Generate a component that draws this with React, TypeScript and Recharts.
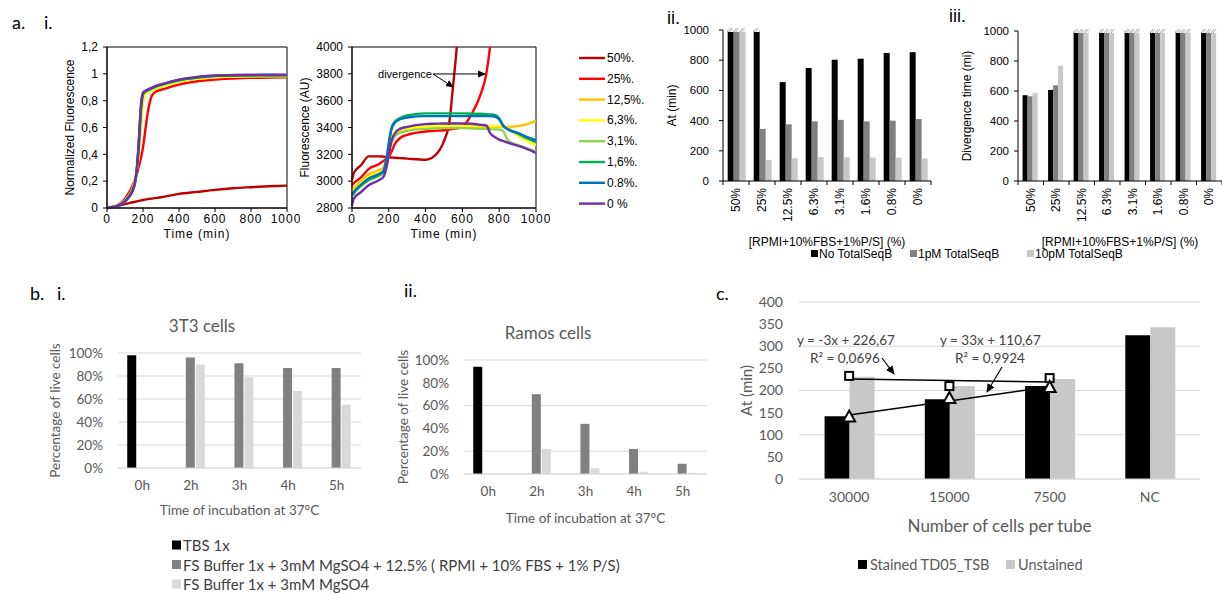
import React from 'react';
import {
  LineChart, Line, XAxis, YAxis, BarChart, Bar, ComposedChart, CartesianGrid,
  ReferenceArea, ReferenceLine, ReferenceDot,
} from 'recharts';

// ---------------- Panel a.i : normalized fluorescence ----------------
const normTime = [0, 50, 100, 150, 165, 175, 190, 200, 210, 225, 250, 275, 300, 400, 500, 600, 700, 800, 900, 1000];
const norm50 = [0, 0.015, 0.03, 0.045, 0.049, 0.052, 0.057, 0.06, 0.062, 0.066, 0.07, 0.075, 0.08, 0.105, 0.12, 0.135, 0.147, 0.155, 0.162, 0.167];
const norm25 = [0, 0.015, 0.07, 0.19, 0.25, 0.3, 0.38, 0.45, 0.55, 0.7, 0.84, 0.87, 0.88, 0.92, 0.945, 0.958, 0.965, 0.97, 0.972, 0.975];
const norm125 = [0, 0.013, 0.058, 0.18, 0.28, 0.4, 0.66, 0.8, 0.845, 0.865, 0.88, 0.895, 0.905, 0.942, 0.962, 0.974, 0.978, 0.98, 0.98, 0.98];
const norm63 = [0, 0.012, 0.055, 0.17, 0.27, 0.38, 0.62, 0.78, 0.84, 0.86, 0.878, 0.892, 0.903, 0.94, 0.962, 0.975, 0.98, 0.983, 0.985, 0.985];
const norm31 = [0, 0.012, 0.055, 0.17, 0.28, 0.42, 0.72, 0.84, 0.86, 0.872, 0.89, 0.905, 0.915, 0.95, 0.97, 0.982, 0.986, 0.988, 0.99, 0.99];
const norm16 = [0, 0.011, 0.05, 0.16, 0.28, 0.44, 0.76, 0.85, 0.868, 0.878, 0.893, 0.908, 0.918, 0.953, 0.973, 0.985, 0.988, 0.99, 0.99, 0.99];
const norm08 = [0, 0.01, 0.05, 0.16, 0.28, 0.45, 0.77, 0.852, 0.868, 0.879, 0.894, 0.909, 0.919, 0.954, 0.974, 0.986, 0.989, 0.99, 0.991, 0.99];
const norm0 = [0, 0.01, 0.048, 0.155, 0.28, 0.46, 0.79, 0.858, 0.872, 0.882, 0.897, 0.912, 0.922, 0.957, 0.977, 0.988, 0.991, 0.993, 0.994, 0.994];

// ---------------- Panel a.i : raw fluorescence ----------------
const rawTime = [0, 10, 50, 90, 150, 170, 190, 200, 215, 230, 260, 300, 400, 450, 500, 530, 550, 570, 600, 650, 700, 730, 750, 780, 800, 820, 850, 900, 950, 1000];
const raw50 = [3010, 3060, 3120, 3185, 3185, 3183, 3180, 3178, 3176, 3175, 3172, 3168, 3160, 3190, 3300, 3450, 3720, 4010, 4700, null, null, null, null, null, null, null, null, null, null, null];
const raw25 = [2970, 2985, 3030, 3090, 3130, 3150, 3170, 3185, 3220, 3270, 3320, 3345, 3370, 3375, 3380, 3385, 3390, 3393, 3405, 3500, 3650, 3800, 4000, 4500, null, null, null, null, null, null];
const raw125 = [2935, 2950, 3000, 3050, 3085, 3100, 3180, 3240, 3310, 3350, 3380, 3392, 3402, 3405, 3405, 3405, 3405, 3405, 3405, 3405, 3405, 3405, 3405, 3405, 3405, 3405, 3405, 3410, 3425, 3450];
const raw63 = [2920, 2935, 2985, 3030, 3065, 3080, 3170, 3240, 3320, 3360, 3385, 3395, 3405, 3408, 3410, 3410, 3410, 3410, 3410, 3410, 3410, 3410, 3410, 3410, 3410, 3410, 3395, 3340, 3300, 3270];
const raw31 = [2900, 2920, 2965, 3005, 3040, 3060, 3130, 3200, 3290, 3330, 3360, 3375, 3390, 3392, 3395, 3395, 3395, 3395, 3395, 3393, 3390, 3390, 3388, 3386, 3385, 3375, 3300, 3270, 3245, 3220];
const raw16 = [2890, 2910, 2970, 3010, 3050, 3070, 3180, 3280, 3400, 3440, 3470, 3490, 3505, 3505, 3505, 3505, 3505, 3505, 3505, 3503, 3502, 3500, 3498, 3492, 3470, 3420, 3385, 3355, 3320, 3290];
const raw08 = [2900, 2920, 2975, 3020, 3055, 3075, 3190, 3280, 3390, 3430, 3460, 3475, 3485, 3485, 3485, 3485, 3485, 3485, 3485, 3485, 3485, 3485, 3485, 3480, 3460, 3415, 3385, 3360, 3330, 3305];
const raw0 = [2820, 2870, 2920, 2970, 3010, 3030, 3120, 3200, 3300, 3350, 3390, 3405, 3425, 3428, 3430, 3430, 3430, 3430, 3430, 3428, 3420, 3415, 3360, 3325, 3310, 3300, 3285, 3265, 3240, 3210];

const dilutionLabels = ['50%.', '25%.', '12,5%.', '6,3%.', '3,1%.', '1,6%.', '0.8%.', '0 %'];
const dilutionColors = ['#C00000', '#FF0000', '#FFC000', '#FFFF00', '#92D050', '#00B050', '#0070C0', '#7030A0'];
const normSeries = [norm50, norm25, norm125, norm63, norm31, norm16, norm08, norm0];
const rawSeries = [raw50, raw25, raw125, raw63, raw31, raw16, raw08, raw0];

const timeTicks = [0, 200, 400, 600, 800, 1000];
const normTicks = [0, 0.2, 0.4, 0.6, 0.8, 1, 1.2];
const rawTicks = [2800, 3000, 3200, 3400, 3600, 3800, 4000];

// ---------------- Panels a.ii / a.iii ----------------
const mediumCats = ['50%', '25%', '12.5%', '6.3%', '3.1%', '1.6%', '0.8%', '0%'];
const atNo = [1000, 1000, 655, 748, 803, 810, 848, 853];
const at1pM = [1000, 345, 375, 395, 405, 395, 400, 410];
const at10pM = [1000, 140, 150, 158, 158, 155, 155, 150];
const divNo = [572, 607, 1000, 1000, 1000, 1000, 1000, 1000];
const div1pM = [565, 638, 1000, 1000, 1000, 1000, 1000, 1000];
const div10pM = [588, 768, 1000, 1000, 1000, 1000, 1000, 1000];
const seqLabels = ['No TotalSeqB', '1pM TotalSeqB', '10pM TotalSeqB'];
const thousandTicks = [0, 200, 400, 600, 800, 1000];

// ---------------- Panel b ----------------
const hours = ['0h', '2h', '3h', '4h', '5h'];
const t3Tbs = [98, null, null, null, null];
const t3Fs125 = [null, 96, 91, 87, 87];
const t3Fs = [null, 90, 79, 67, 55];
const ramTbs = [94, null, null, null, null];
const ramFs125 = [null, 70, 44, 22, 9];
const ramFs = [null, 22, 5, 2, 1];
const bufferLabels = ['TBS 1x', 'FS Buffer 1x + 3mM MgSO4 + 12.5% ( RPMI + 10% FBS + 1% P/S)', 'FS Buffer 1x + 3mM MgSO4'];
const pctTicks = [0, 20, 40, 60, 80, 100];

// ---------------- Panel c ----------------
const cellCats = ['30000', '15000', '7500', 'NC'];
const stained = [142, 180, 210, 325];
const unstained = [231, 210, 226, 343];
const squarePts = [233, 210, 228, null];
const squareTrend = [226, 222.5, 219, null];
const trianglePts = [141, 183, 208, null];
const triangleTrend = [144.5, 176.5, 208.5, null];
const cTicks = [0, 50, 100, 150, 200, 250, 300, 350, 400];
const cLegend = ['Stained TD05_TSB', 'Unstained'];

// ---------------- tables ----------------
const normData = normTime.map((t, i) => {
  const row: any = { t };
  normSeries.forEach((s, k) => { row['s' + k] = s[i]; });
  return row;
});
const rawData = rawTime.map((t, i) => {
  const row: any = { t };
  rawSeries.forEach((s, k) => { row['s' + k] = s[i]; });
  return row;
});
const atData = mediumCats.map((c, i) => ({ c, no: atNo[i], p1: at1pM[i], p10: at10pM[i] }));
const divData = mediumCats.map((c, i) => ({ c, no: divNo[i], p1: div1pM[i], p10: div10pM[i] }));
const t3Data = hours.map((h, i) => ({ h, a: t3Tbs[i], b: t3Fs125[i], c: t3Fs[i] }));
const ramData = hours.map((h, i) => ({ h, a: ramTbs[i], b: ramFs125[i], c: ramFs[i] }));
const cData = cellCats.map((n, i) => ({
  n, st: stained[i], un: unstained[i], sq: squarePts[i], sqT: squareTrend[i], tr: trianglePts[i], trT: triangleTrend[i],
}));

const ARIAL = '"Liberation Sans", Arial, Helvetica, sans-serif';
const CAL = 'Lato, "Open Sans", sans-serif';
const BLACK_BAR = '#000000';
const DARK_BAR = '#808080';
const LIGHT_BAR = '#c8c8c8';
const LIGHT_B = '#d9d9d9';
const GRID = '#d9d9d9';
const GRAY_TXT = '#595959';

const commaFmt = (v: number) => (v === 0 ? '0' : v === 1 ? '1' : v.toFixed(1).replace('.', ','));

const makeHatchBar = (key: string) => (p: any) => {
  const { x, y, width, height, fill } = p;
  const v = p.payload ? p.payload[key] : 0;
  const marks: any[] = [];
  if (v >= 1000) {
    for (let i = 0; i + 3 <= width + 0.5; i += 2) {
      marks.push(<line key={i} x1={x + i} y1={y + 2} x2={x + i + 3} y2={y - 2} stroke="#9a9a9a" strokeWidth={0.8} />);
    }
  }
  return (
    <g>
      <rect x={x} y={y} width={width} height={height} fill={fill} />
      {v >= 1000 && (
        <g>
          <rect x={x} y={y - 2} width={width} height={4} fill="#ffffff" />
          {marks}
        </g>
      )}
    </g>
  );
};

const BandTick = (p: any) => {
  const { x, y, payload, index, visibleTicksCount } = p;
  const half = payload && payload.offset ? payload.offset : 13;
  const last = index === visibleTicksCount - 1;
  return (
    <g>
      <line x1={x - half} y1={y} x2={x - half} y2={y + 4} stroke="#000" />
      {last && <line x1={x + half} y1={y} x2={x + half} y2={y + 4} stroke="#000" />}
      <text x={x} y={y + 7} transform={`rotate(-90 ${x} ${y + 7})`} textAnchor="end" dominantBaseline="central" fontSize={12} fill="#000">
        {payload.value}
      </text>
    </g>
  );
};

const SquareDot = (p: any) => {
  const { cx, cy } = p;
  if (cx == null || cy == null || p.value == null) return <g />;
  return <rect x={cx - 4} y={cy - 4} width={8} height={8} fill="#fff" stroke="#000" strokeWidth={2} />;
};
const TriangleDot = (p: any) => {
  const { cx, cy } = p;
  if (cx == null || cy == null || p.value == null) return <g />;
  return <polygon points={`${cx},${cy - 6} ${cx - 6},${cy + 5} ${cx + 6},${cy + 5}`} fill="#fff" stroke="#000" strokeWidth={2} />;
};

const ArrowShape = (p: any) => (
  <line x1={p.x1} y1={p.y1} x2={p.x2} y2={p.y2} stroke="#000" strokeWidth={1} markerEnd="url(#arrowHeadA)" />
);

const abs = (left: number, top: number, font: string): React.CSSProperties => ({ position: 'absolute', left, top, fontFamily: font });

export default function App() {
  const hatchNo = makeHatchBar('no');
  const hatch1 = makeHatchBar('p1');
  const hatch10 = makeHatchBar('p10');
  return (
    <div style={{ position: 'absolute', left: 0, top: 0, width: 1222, height: 594, overflow: 'hidden', background: '#fff' }}>
      {/* a.i normalized */}
      <div style={abs(40, 30, ARIAL)}>
        <LineChart width={260} height={220} data={normData} margin={{ top: 17, right: 13, bottom: 0, left: 0 }}>
          <ReferenceArea x1={0} x2={1000} y1={0} y2={1.2} fill="none" stroke="#000" strokeWidth={1} ifOverflow="visible" />
          <XAxis dataKey="t" type="number" domain={[0, 1000]} ticks={timeTicks} height={42} tickSize={4} tickMargin={2}
            stroke="#000" tick={{ fontSize: 12, fill: '#000', letterSpacing: 1 }}
            label={{ value: 'Time (min)', position: 'insideBottom', offset: 12, fontSize: 12, fill: '#000', letterSpacing: 1 }} />
          <YAxis type="number" domain={[0, 1.2]} ticks={normTicks} width={67} tickSize={4} tickMargin={5} stroke="#000"
            tickFormatter={commaFmt} tick={{ fontSize: 12, fill: '#000' }}
            label={{ value: 'Normalized Fluorescence', angle: -90, position: 'insideLeft', offset: 30, fontSize: 12, fill: '#000', style: { textAnchor: 'middle' } }} />
          {normSeries.map((_, k) => (
            <Line key={k} dataKey={'s' + k} stroke={dilutionColors[k]} strokeWidth={2.4} dot={false} type="monotone" isAnimationActive={false} />
          ))}
        </LineChart>
      </div>

      {/* a.i raw */}
      <div style={abs(290, 30, ARIAL)}>
        <LineChart width={260} height={220} data={rawData} margin={{ top: 17, right: 14, bottom: 0, left: 0 }}>
          <ReferenceArea x1={0} x2={1000} y1={2800} y2={4000} fill="none" stroke="#000" strokeWidth={1} ifOverflow="visible" />
          <XAxis dataKey="t" type="number" domain={[0, 1000]} ticks={timeTicks} height={42} tickSize={4} tickMargin={2}
            stroke="#000" tick={{ fontSize: 12, fill: '#000', letterSpacing: 1 }}
            label={{ value: 'Time (min)', position: 'insideBottom', offset: 12, fontSize: 12, fill: '#000', letterSpacing: 1 }} />
          <YAxis type="number" domain={[2800, 4000]} allowDataOverflow ticks={rawTicks} width={62} tickSize={4} tickMargin={5} stroke="#000"
            tick={{ fontSize: 12, fill: '#000' }}
            label={{ value: 'Fluorescence (AU)', angle: -90, position: 'insideLeft', offset: 15, fontSize: 12, fill: '#000', style: { textAnchor: 'middle' } }} />
          {rawSeries.map((_, k) => (
            <Line key={k} dataKey={'s' + k} stroke={dilutionColors[k]} strokeWidth={2.4} dot={false} type="monotone" connectNulls={false} isAnimationActive={false} />
          ))}
          <ReferenceDot x={288} y={3799} r={1} fill="none" stroke="none" label={{ value: 'divergence', position: 'center', fontSize: 11, fill: '#000' }} />
          <ReferenceLine segment={[{ x: 440, y: 3799 }, { x: 549, y: 3702 }]} shape={ArrowShape} />
          <ReferenceLine segment={[{ x: 440, y: 3799 }, { x: 723, y: 3799 }]} shape={ArrowShape} />
        </LineChart>
      </div>

      {/* a.ii */}
      <div style={abs(655, 10, ARIAL)}>
        <BarChart width={285} height={241} data={atData} margin={{ top: 20, right: 9, bottom: 0, left: 0 }} barGap={0} barCategoryGap="18%">
          <XAxis dataKey="c" height={70} tickSize={0} tickMargin={0} tickLine={false} stroke="#000" tick={<BandTick />} interval={0}
            label={{ value: '[RPMI+10%FBS+1%P/S] (%)', position: 'insideBottom', offset: 5, fontSize: 12, fill: '#000' }} />
          <YAxis domain={[0, 1000]} ticks={thousandTicks} width={68} tickSize={4} tickMargin={10} stroke="#000"
            tick={{ fontSize: 11.5, fill: '#000' }}
            label={{ value: 'At (min)', angle: -90, position: 'insideLeft', offset: 17, fontSize: 12, fill: '#000', style: { textAnchor: 'middle' } }} />
          <YAxis yAxisId="frame" orientation="right" width={0} domain={[0, 1000]} tick={false} tickLine={false} axisLine={{ stroke: '#000' }} />
          <Bar dataKey="no" fill={BLACK_BAR} shape={hatchNo} isAnimationActive={false} />
          <Bar dataKey="p1" fill={DARK_BAR} shape={hatch1} isAnimationActive={false} />
          <Bar dataKey="p10" fill={LIGHT_BAR} shape={hatch10} isAnimationActive={false} />
        </BarChart>
      </div>

      {/* a.iii */}
      <div style={abs(950, 10, ARIAL)}>
        <BarChart width={272} height={241} data={divData} margin={{ top: 21, right: 0, bottom: 0, left: 0 }} barGap={0} barCategoryGap="18%">
          <XAxis dataKey="c" height={70} tickSize={0} tickMargin={0} tickLine={false} stroke="#000" tick={<BandTick />} interval={0}
            label={{ value: '[RPMI+10%FBS+1%P/S] (%)', position: 'insideBottom', offset: 5, fontSize: 12, fill: '#000' }} />
          <YAxis domain={[0, 1000]} ticks={thousandTicks} width={68} tickSize={4} tickMargin={5} stroke="#000"
            tick={{ fontSize: 11.5, fill: '#000' }}
            label={{ value: 'Divergence time (mi)', angle: -90, position: 'insideLeft', offset: 17, fontSize: 12, fill: '#000', style: { textAnchor: 'middle' } }} />
          <Bar dataKey="no" fill={BLACK_BAR} shape={hatchNo} isAnimationActive={false} />
          <Bar dataKey="p1" fill={DARK_BAR} shape={hatch1} isAnimationActive={false} />
          <Bar dataKey="p10" fill={LIGHT_BAR} shape={hatch10} isAnimationActive={false} />
        </BarChart>
      </div>

      {/* b.i */}
      <div style={abs(30, 310, CAL)}>
        <BarChart width={345} height={212} data={t3Data} margin={{ top: 43, right: 14, bottom: 0, left: 0 }} barGap={1} barCategoryGap="19%">
          <CartesianGrid vertical={false} stroke={GRID} />
          <XAxis dataKey="h" height={54} tickSize={0} tickMargin={12} tickLine={false} axisLine={{ stroke: GRID }}
            tick={{ fontSize: 13.5, fill: GRAY_TXT }}
            label={{ value: 'Time of incubation at 37°C', position: 'insideBottom', offset: 7, fontSize: 13.5, fill: GRAY_TXT }} />
          <YAxis domain={[0, 100]} ticks={pctTicks} width={88} tickSize={0} tickMargin={15} tickLine={false} axisLine={false}
            tickFormatter={(v: number) => v + '%'} tick={{ fontSize: 13.5, fill: GRAY_TXT }}
            label={{ value: 'Percentage of live cells', angle: -90, position: 'insideLeft', offset: 25, fontSize: 13.5, fill: GRAY_TXT, style: { textAnchor: 'middle' } }} />
          <Bar dataKey="a" fill={BLACK_BAR} isAnimationActive={false} />
          <Bar dataKey="b" fill={DARK_BAR} isAnimationActive={false} />
          <Bar dataKey="c" fill={LIGHT_B} isAnimationActive={false} />
        </BarChart>
      </div>

      {/* b.ii */}
      <div style={abs(380, 320, CAL)}>
        <BarChart width={340} height={213} data={ramData} margin={{ top: 40, right: 13, bottom: 0, left: 0 }} barGap={1} barCategoryGap="19%">
          <CartesianGrid vertical={false} stroke={GRID} />
          <XAxis dataKey="h" height={59} tickSize={0} tickMargin={12} tickLine={false} axisLine={{ stroke: GRID }}
            tick={{ fontSize: 13.5, fill: GRAY_TXT }}
            label={{ value: 'Time of incubation at 37°C', position: 'insideBottom', offset: 10, fontSize: 13.5, fill: GRAY_TXT }} />
          <YAxis domain={[0, 100]} ticks={pctTicks} width={84} tickSize={0} tickMargin={15} tickLine={false} axisLine={false}
            tickFormatter={(v: number) => v + '%'} tick={{ fontSize: 13.5, fill: GRAY_TXT }}
            label={{ value: 'Percentage of live cells', angle: -90, position: 'insideLeft', offset: 23, fontSize: 13.5, fill: GRAY_TXT, style: { textAnchor: 'middle' } }} />
          <Bar dataKey="a" fill={BLACK_BAR} isAnimationActive={false} />
          <Bar dataKey="b" fill={DARK_BAR} isAnimationActive={false} />
          <Bar dataKey="c" fill={LIGHT_B} isAnimationActive={false} />
        </BarChart>
      </div>

      {/* c */}
      <div style={abs(730, 290, CAL)}>
        <ComposedChart width={480} height={252} data={cData} margin={{ top: 12, right: 10, bottom: 0, left: 0 }} barGap={0} barCategoryGap="25.5%">
          <CartesianGrid vertical={false} stroke={GRID} />
          <XAxis dataKey="n" height={63} tickSize={0} tickMargin={13} tickLine={false} axisLine={{ stroke: GRID }}
            tick={{ fontSize: 14, fill: GRAY_TXT }}
            label={{ value: 'Number of cells per tube', position: 'insideBottom', offset: 10, fontSize: 17, fill: GRAY_TXT }} />
          <YAxis domain={[0, 400]} ticks={cTicks} width={69} tickSize={0} tickMargin={16} tickLine={false} axisLine={false}
            tick={{ fontSize: 14, fill: GRAY_TXT }}
            label={{ value: 'At (min)', angle: -90, position: 'insideLeft', offset: 17, fontSize: 15, fill: GRAY_TXT, style: { textAnchor: 'middle' } }} />
          <Bar dataKey="st" fill={BLACK_BAR} isAnimationActive={false} />
          <Bar dataKey="un" fill={LIGHT_BAR} isAnimationActive={false} />
          <Line dataKey="sqT" stroke="#000" strokeWidth={1.5} dot={false} type="linear" isAnimationActive={false} />
          <Line dataKey="trT" stroke="#000" strokeWidth={1.5} dot={false} type="linear" isAnimationActive={false} />
          <Line dataKey="sq" stroke="none" dot={<SquareDot />} activeDot={false} isAnimationActive={false} />
          <Line dataKey="tr" stroke="none" dot={<TriangleDot />} activeDot={false} isAnimationActive={false} />
        </ComposedChart>
      </div>

      {/* overlay: labels, legends, annotations */}
      <svg width={1222} height={594} style={{ position: 'absolute', left: 0, top: 0, pointerEvents: 'none' }}>
        <defs>
          <marker id="arrowHeadA" markerWidth="8" markerHeight="8" refX="7" refY="4" orient="auto" markerUnits="userSpaceOnUse">
            <path d="M0,0.5 L8,4 L0,7.5 z" fill="#000" />
          </marker>
          <marker id="arrowHeadC" markerWidth="9" markerHeight="9" refX="8" refY="4.5" orient="auto" markerUnits="userSpaceOnUse">
            <path d="M0,0.5 L9,4.5 L0,8.5 z" fill="#000" />
          </marker>
        </defs>
        {/* panel letters */}
        <g fontFamily={CAL} fontSize={18} fill="#000">
          <text x={12} y={22} dominantBaseline="central">a.</text>
          <text x={44} y={22} dominantBaseline="central">i.</text>
          <text x={30} y={293} dominantBaseline="central">b.</text>
          <text x={57} y={293} dominantBaseline="central">i.</text>
          <text x={404} y={290} dominantBaseline="central">ii.</text>
          <text x={716} y={293} dominantBaseline="central">c.</text>
        </g>
        <g fontFamily={ARIAL} fontSize={18} fill="#000">
          <text x={667} y={18} dominantBaseline="central">ii.</text>
          <text x={949} y={16} dominantBaseline="central">iii.</text>
        </g>
        {/* a.i legend */}
        <g fontFamily={ARIAL} fontSize={12} fill="#000">
          {dilutionLabels.map((lab, k) => (
            <g key={lab}>
              <line x1={579} x2={605} y1={58 + k * 20.8} y2={58 + k * 20.8} stroke={dilutionColors[k]} strokeWidth={2.4} />
              <text x={607} y={58 + k * 20.8} dominantBaseline="central">{lab}</text>
            </g>
          ))}
        </g>
        {/* a.ii/iii legend */}
        <g fontFamily={ARIAL} fontSize={12} fill="#000">
          {seqLabels.map((lab, k) => {
            const xs = [811, 910, 1027][k];
            const col = [BLACK_BAR, DARK_BAR, LIGHT_BAR][k];
            return (
              <g key={lab}>
                <rect x={xs} y={250} width={7} height={7} fill={col} />
                <text x={xs + 8} y={254} dominantBaseline="central">{lab}</text>
              </g>
            );
          })}
        </g>
        {/* b titles */}
        <g fontFamily={CAL} fontSize={17} fill={GRAY_TXT} textAnchor="middle">
          <text x={202} y={325} dominantBaseline="central">3T3 cells</text>
          <text x={548} y={332} dominantBaseline="central">Ramos cells</text>
        </g>
        {/* b legend */}
        <g fontFamily={CAL} fontSize={15} fill="#404040">
          {bufferLabels.map((lab, k) => {
            const col = [BLACK_BAR, DARK_BAR, LIGHT_B][k];
            const yy = 545 + k * 19.5;
            return (
              <g key={lab}>
                <rect x={172} y={yy - 4.5} width={9} height={9} fill={col} />
                <text x={183} y={yy} dominantBaseline="central">{lab}</text>
              </g>
            );
          })}
        </g>
        {/* c legend */}
        <g fontFamily={CAL} fontSize={14.5} fill={GRAY_TXT}>
          {cLegend.map((lab, k) => {
            const xs = [858, 1006][k];
            const col = [BLACK_BAR, LIGHT_BAR][k];
            return (
              <g key={lab}>
                <rect x={xs} y={560} width={9} height={9} fill={col} />
                <text x={xs + 12} y={564.5} dominantBaseline="central">{lab}</text>
              </g>
            );
          })}
        </g>
        {/* c annotations */}
        <g fontFamily={CAL} fontSize={13.5} fill="#404040">
          <text x={797} y={340} dominantBaseline="central">y = -3x + 226,67</text>
          <text x={810} y={358} dominantBaseline="central">R² = 0,0696</text>
          <text x={940} y={340} dominantBaseline="central">y = 33x + 110,67</text>
          <text x={955} y={358} dominantBaseline="central">R² = 0,9924</text>
        </g>
        <line x1={882} y1={358} x2={894} y2={374} stroke="#000" strokeWidth={1.2} markerEnd="url(#arrowHeadC)" />
        <line x1={1002} y1={367} x2={987} y2={392} stroke="#000" strokeWidth={1.2} markerEnd="url(#arrowHeadC)" />
      </svg>
    </div>
  );
}
